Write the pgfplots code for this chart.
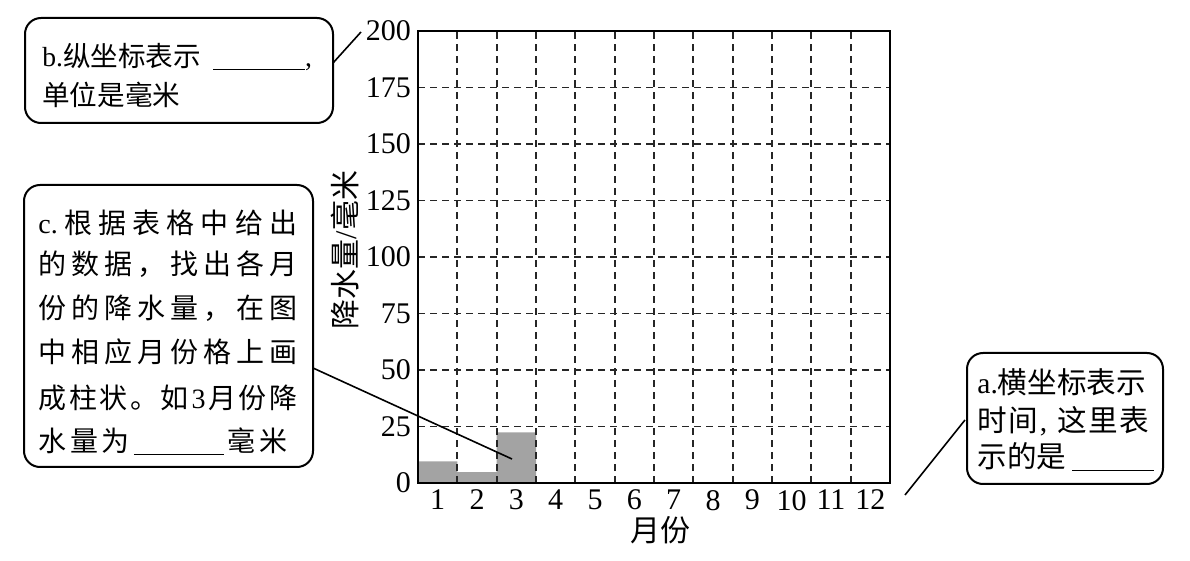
\documentclass[border=0pt]{standalone}
\usepackage{fontspec}
\setmainfont{Liberation Serif}
\newfontfamily\cjk{Noto Sans CJK SC}
\usepackage{pgfplots}
\pgfplotsset{compat=1.18}

% spread the tokens of a line over a fixed width
\makeatletter
\newcommand\spr[2]{\makebox[#1][s]{\let\spr@sep\relax\@tfor\spr@c:=#2\do{\spr@sep\spr@c\let\spr@sep\hfil}}}
\makeatother
\newcommand\blank[1]{\underline{\makebox[#1]{}}}

\begin{document}
\begin{tikzpicture}[x=0.5pt,y=-0.5pt]
\path (0,0) rectangle (1190,561);
\coordinate (O) at (418,483);

\begin{axis}[
    at={(O)}, anchor=south west,
    scale only axis, width=236pt, height=226pt,
    xmin=0.5, xmax=12.5, ymin=0, ymax=200,
    xtick={1,...,12}, ytick={0,25,...,200},
    minor xtick={1.5,2.5,3.5,4.5,5.5,6.5,7.5,8.5,9.5,10.5,11.5},
    xminorgrids, ymajorgrids,
    grid style={black!85, line width=0.9pt, dash pattern=on 3.5pt off 2.5pt},
    minor grid style={black!85, line width=0.9pt, dash pattern=on 3.5pt off 2.5pt},
    major tick length=0pt, minor tick length=0pt,
    axis line style={line width=1pt},
    ticklabel style={font=\fontsize{15}{15}\selectfont},
    /pgf/number format/assume math mode=true,
    ybar, bar width=1,
    axis on top,
]
\addplot[fill=black!36, draw=none] coordinates {(1,9.6) (2,4.8) (3,22.4)};
\end{axis}

\node[rotate=90, inner sep=0, font=\fontsize{15}{15}\selectfont] at (345,250) {{\cjk 降水量}/{\cjk 毫米}};
\node[inner sep=0, font=\fontsize{15}{15}\selectfont\cjk] at (660,530) {月份};

% callout boxes
\begin{scope}[line width=1pt, rounded corners=8pt]
\draw (25,18) rectangle (333,123);
\draw (24,185) rectangle (313,467);
\draw (967,353) rectangle (1163,484);
\end{scope}
\draw[line width=0.8pt] (333,63) -- (361,32);
\draw[line width=0.8pt] (313,368) -- (512,459);
\draw[line width=0.8pt] (965,420) -- (905,495);

% box b
\begin{scope}[every node/.style={anchor=west, inner sep=0, font=\fontsize{13.8}{13.8}\selectfont\cjk}]
\node at (42,57) {{\rmfamily b.}纵坐标表示\hspace{6pt}\blank{46pt}{\rmfamily ,}};
\node at (42,95) {单位是毫米};
\end{scope}
% box a
\begin{scope}[every node/.style={anchor=west, inner sep=0, font=\fontsize{14.8}{14.8}\selectfont\cjk}]
\node at (977,382) {{\rmfamily a.}横坐标表示};
\node at (977,421) {\spr{86pt}{时间{{\rmfamily ,}}{ }这里表}};
\node at (977,457) {示的是\hspace{3pt}\blank{41pt}};
\end{scope}

% box c
\begin{scope}[every node/.style={anchor=west, inner sep=0, font=\fontsize{14}{14}\selectfont\cjk}]
\node at (38,223) {\spr{129.5pt}{{{\rmfamily c.}}根据表格中给出}};
\node at (38,264) {\spr{129.5pt}{的数据，找出各月}};
\node at (38,308) {\spr{129.5pt}{份的降水量，在图}};
\node at (38,352) {\spr{129.5pt}{中相应月份格上画}};
\node at (38,398) {\spr{129.5pt}{成柱状。如{{\rmfamily 3}}月份降}};
\node at (38,442) {\spr{124.5pt}{水量为{{\blank{45pt}}}毫米}};
\end{scope}
\end{tikzpicture}
\end{document}
